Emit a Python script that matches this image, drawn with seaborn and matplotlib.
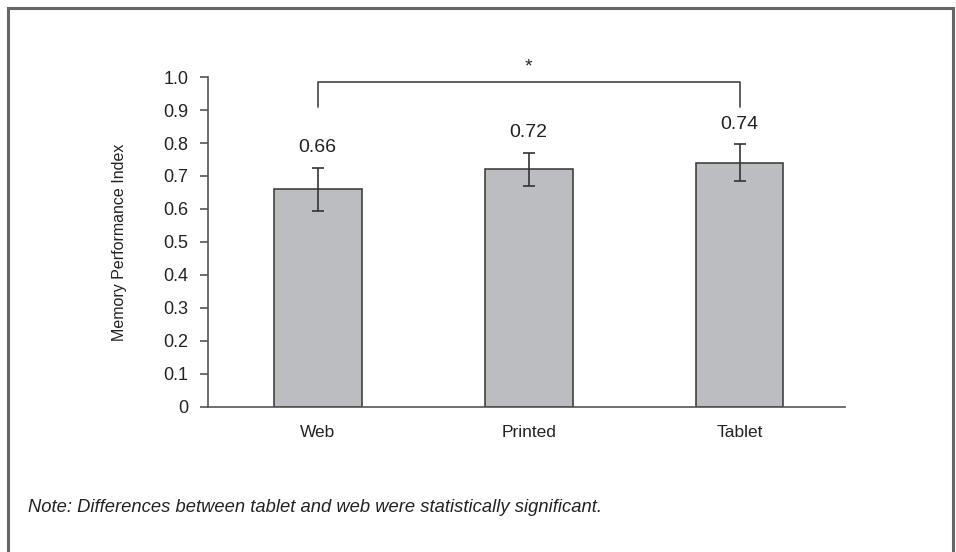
import matplotlib
matplotlib.use("Agg")
import matplotlib.pyplot as plt
from matplotlib.patches import Rectangle
import seaborn as sns
import pandas as pd

# Data
conditions = ["Web", "Printed", "Tablet"]
means = [0.66, 0.72, 0.74]
errors = [0.065, 0.05, 0.056]
y_ticks = [0, 0.1, 0.2, 0.3, 0.4, 0.5, 0.6, 0.7, 0.8, 0.9, 1.0]
y_tick_labels = ["0", "0.1", "0.2", "0.3", "0.4", "0.5", "0.6", "0.7", "0.8", "0.9", "1.0"]
note = "Note: Differences between tablet and web were statistically significant."

sns.set_theme(style="white")
plt.rcParams["font.family"] = ["Liberation Sans", "DejaVu Sans"]

df = pd.DataFrame({"condition": conditions, "mean": means})

fig = plt.figure(figsize=(9.56, 5.52), dpi=100)
ax = fig.add_axes([0.2176, 0.2627, 0.6665, 0.5978])

sns.barplot(data=df, x="condition", y="mean", ax=ax, color="#bcbdc1",
            edgecolor="#333333", linewidth=1.1, width=0.415, saturation=1)

ax.errorbar(range(len(conditions)), means, yerr=errors, fmt="none",
            ecolor="#333333", elinewidth=1.2, capsize=4, capthick=1.2)

for i, (m, e) in enumerate(zip(means, errors)):
    ax.text(i, m + e + 0.035, f"{m:.2f}", ha="center", va="bottom",
            fontsize=14, color="#222222")

# Significance bracket between Web and Tablet
ax.plot([0, 0, 2, 2], [0.91, 0.985, 0.985, 0.91], color="#444444",
        lw=1.2, clip_on=False)
ax.text(1, 1.005, "*", ha="center", va="bottom", fontsize=14, color="#222222")

ax.set_xlim(-0.52, 2.5)
ax.set_ylim(0, 1.0)
ax.set_yticks(y_ticks)
ax.set_yticklabels(y_tick_labels)
ax.set_xlabel("")
ax.set_ylabel("Memory Performance Index", fontsize=11.5, color="#222222", labelpad=26)

for side in ["top", "right"]:
    ax.spines[side].set_visible(False)
for side in ["left", "bottom"]:
    ax.spines[side].set_color("#555555")
    ax.spines[side].set_linewidth(1.2)

ax.tick_params(axis="y", which="both", left=True, length=6, width=1.2,
               color="#555555", labelsize=13, labelcolor="#222222", pad=8)
ax.tick_params(axis="x", bottom=False, labelsize=12.5, labelcolor="#222222", pad=7)
# right-align the y tick labels against the tick marks
for lbl in ax.get_yticklabels():
    lbl.set_horizontalalignment("right")

# Outer frame
fig.patches.append(Rectangle((8 / 956, -0.05), 945 / 956, 1.05 - 8 / 552,
                             transform=fig.transFigure, fill=False,
                             edgecolor="#666666", linewidth=2.2))

fig.text(28 / 956, (552 - 508) / 552, note, ha="left", va="center",
         fontsize=13.2, style="italic", color="#222222")

fig.savefig("out.png", dpi=100)
